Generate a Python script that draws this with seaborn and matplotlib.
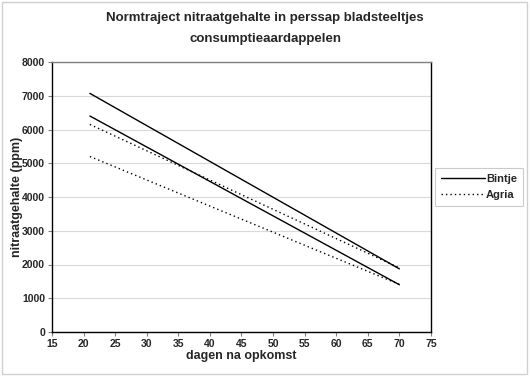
import numpy as np
import pandas as pd
import matplotlib
matplotlib.use('Agg')
import matplotlib.pyplot as plt
import seaborn as sns

# data: two boundary lines per variety
dagen = [21, 70]
bintje_boven = [7070, 1870]
bintje_onder = [6400, 1400]
agria_boven = [6150, 1900]
agria_onder = [5200, 1410]

df = pd.DataFrame({
    'dagen': dagen * 4,
    'nitraat': bintje_boven + bintje_onder + agria_boven + agria_onder,
    'ras': ['Bintje'] * 4 + ['Agria'] * 4,
    'grens': ['boven', 'boven', 'onder', 'onder'] * 2,
})

sns.set_style('white')
plt.rcParams['font.family'] = ['Liberation Sans', 'DejaVu Sans']

fig = plt.figure(figsize=(5.3, 3.76), dpi=100)
ax = fig.add_axes([52 / 530, 1 - 332 / 376, 379 / 530, 270 / 376])

sns.lineplot(data=df, x='dagen', y='nitraat', hue='ras', style='ras',
             units='grens', estimator=None, ax=ax,
             palette={'Bintje': 'black', 'Agria': 'black'},
             dashes={'Bintje': '', 'Agria': (1, 2.2)}, linewidth=1.0)

ax.set_xlim(15, 75)
ax.set_ylim(0, 8000)
ax.set_xticks(range(15, 76, 5))
ax.set_yticks(range(0, 8001, 1000))
ax.yaxis.grid(True, color='#d9d9d9', linewidth=0.8)
ax.set_axisbelow(True)
ax.tick_params(axis='both', which='both', length=3, direction='out', labelsize=7.5,
               left=True, bottom=True, color='#808080', pad=2)
for lab in ax.get_xticklabels() + ax.get_yticklabels():
    lab.set_fontweight('bold')

for side in ['left', 'bottom', 'right']:
    ax.spines[side].set_color('black')
    ax.spines[side].set_linewidth(1.0)
ax.spines['top'].set_color('#808080')
ax.spines['top'].set_linewidth(1.0)

ax.set_xlabel('dagen na opkomst', fontsize=9, fontweight='bold', labelpad=1)
ax.set_ylabel('nitraatgehalte (ppm)', fontsize=9, fontweight='bold')
ax.yaxis.set_label_coords(-29 / 379, 0.5)

fig.suptitle('Normtraject nitraatgehalte in perssap bladsteeltjes\nconsumptieaardappelen',
             x=0.5, y=0.968, fontsize=9.5, fontweight='bold', linespacing=2.0)

leg = ax.legend(loc='upper left', bbox_to_anchor=(435 / 530, 1 - 168 / 376),
                bbox_transform=fig.transFigure, frameon=True, fancybox=False,
                fontsize=8, handlelength=4.0, handletextpad=0.1,
                borderpad=0.5, labelspacing=0.6, borderaxespad=0)
leg.get_frame().set_edgecolor('#bfbfbf')
leg.get_frame().set_linewidth(0.8)
for t in leg.get_texts():
    t.set_fontweight('bold')

fig.patches.append(plt.Rectangle((0.004, 0.006), 0.99, 0.99, transform=fig.transFigure,
                                 fill=False, edgecolor='#d0d0d0', linewidth=1.0))

fig.savefig('out.png', dpi=100)
